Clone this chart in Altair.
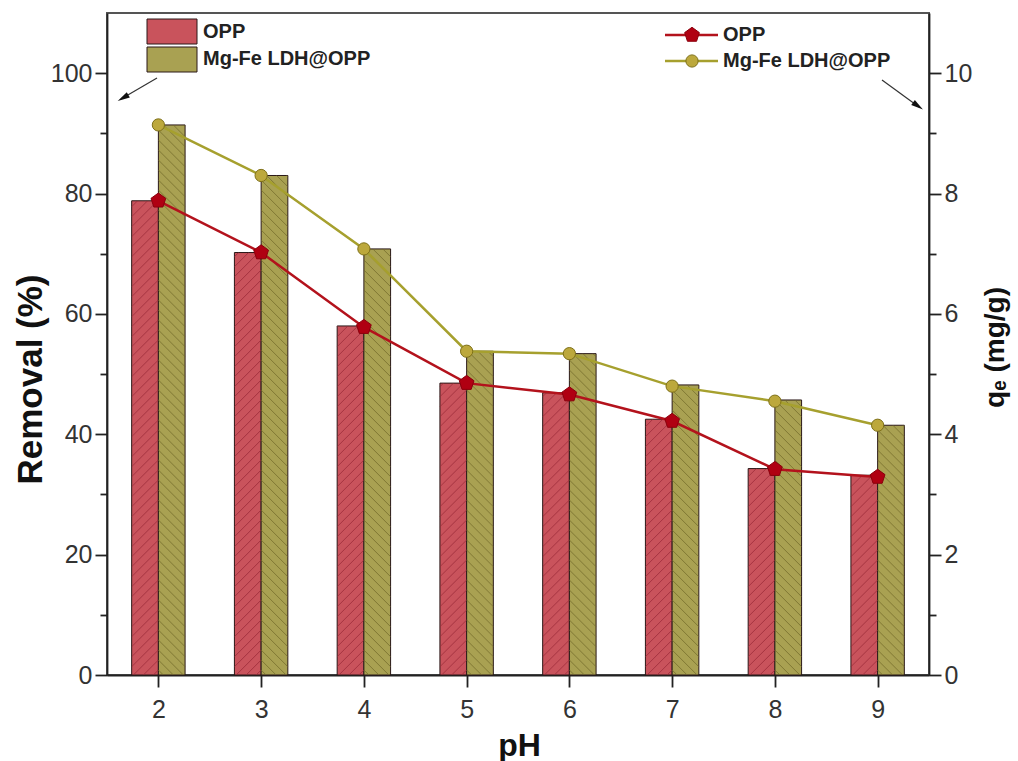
import altair as alt
import pandas as pd

# ---------------- data ----------------
ph = [2, 3, 4, 5, 6, 7, 8, 9]
series_names = ["OPP", "Mg-Fe LDH@OPP"]
removal_opp = [78.8, 70.2, 58.0, 48.5, 46.9, 42.5, 34.3, 33.2]
removal_ldh = [91.4, 83.0, 70.8, 53.8, 53.4, 48.2, 45.7, 41.5]
qe_opp = [7.88, 7.02, 5.78, 4.85, 4.66, 4.22, 3.42, 3.29]
qe_ldh = [9.14, 8.30, 7.08, 5.38, 5.34, 4.80, 4.55, 4.15]
left_major = [0, 20, 40, 60, 80, 100]
left_minor = [10, 30, 50, 70, 90]
right_major = [0, 2, 4, 6, 8, 10]
right_minor = [1, 3, 5, 7, 9]

bars_df = pd.DataFrame({
    "pH": ph + ph,
    "series": [series_names[0]] * len(ph) + [series_names[1]] * len(ph),
    "order": [0] * len(ph) + [1] * len(ph),
    "removal": removal_opp + removal_ldh,
})
lines_df = pd.DataFrame({
    "pH": ph + ph,
    "series": [series_names[0]] * len(ph) + [series_names[1]] * len(ph),
    "qe": qe_opp + qe_ldh,
})

# ---------------- styles ----------------
W, H = 822, 662
X_DOMAIN = [1.5, 9.5]
Y_LEFT = [0, 110]
Y_RIGHT = [0, 11]
BAR_W = 0.26
FONT = "Liberation Sans"
AX = "#222222"
BAR_FILL = ["#C9535C", "#A9A152"]
HATCH_COL = ["#9A2A38", "#716A2A"]
LINE_COL = ["#B3121C", "#A6A02E"]
PT_FILL = ["#B00012", "#BCA83C"]
PT_STROKE = ["#8A000C", "#7E7018"]
PENTAGON = "M0,-1L0.951,-0.309L0.588,0.809L-0.588,0.809L-0.951,-0.309Z"
ARROW = "M0,-1L0.5,1L-0.5,1Z"


def hatch_segments(df, step=10.0):
    """Diagonal hatch lines inside each bar (texture), expressed in data units."""
    kx = W / (X_DOMAIN[1] - X_DOMAIN[0])
    ky = H / (Y_LEFT[1] - Y_LEFT[0])
    wpx = BAR_W * kx
    rows = []
    for r in df.itertuples():
        a = r.pH + (r.order - 1) * BAR_W
        hpx = r.removal * ky
        if r.order == 0:  # "/"
            c = -wpx + step / 2
            while c < hpx:
                u0, u1 = max(0.0, -c), min(wpx, hpx - c)
                if u1 > u0:
                    rows.append(dict(series=r.series, hx=a + u0 / kx, hy=(u0 + c) / ky,
                                     hx2=a + u1 / kx, hy2=(u1 + c) / ky))
                c += step
        else:  # "\"
            c = step / 2
            while c < hpx + wpx:
                u0, u1 = max(0.0, c - hpx), min(wpx, c)
                if u1 > u0:
                    rows.append(dict(series=r.series, hx=a + u0 / kx, hy=(c - u0) / ky,
                                     hx2=a + u1 / kx, hy2=(c - u1) / ky))
                c += step
    return pd.DataFrame(rows)


hatch_df = hatch_segments(bars_df)

xscale = alt.Scale(domain=X_DOMAIN, nice=False, zero=False)
xaxis = alt.Axis(values=ph, title="pH", grid=False, tickSize=12, labelPadding=10,
                 titleX=412, titleY=80, titleBaseline="alphabetic",
                 titleAlign="center", titleFontSize=32)

left_scale = alt.Scale(domain=Y_LEFT, nice=False, zero=True)
right_scale = alt.Scale(domain=Y_RIGHT, nice=False, zero=True)

bars = alt.Chart(bars_df).transform_calculate(
    xa=f"datum.pH + (datum.order - 1) * {BAR_W}",
    xb=f"datum.pH + datum.order * {BAR_W}",
    base="0",
).mark_rect(stroke="#2a1818", strokeWidth=1).encode(
    x=alt.X("xa:Q", scale=xscale, axis=xaxis),
    x2="xb:Q",
    y=alt.Y("removal:Q", scale=left_scale,
            axis=alt.Axis(orient="left", values=left_major, title="Removal (%)", grid=False,
                          tickSize=12, labelPadding=3, titleAngle=270, titleX=-77, titleY=366,
                          titleBaseline="middle", titleAlign="center", titleFontSize=35)),
    y2="base:Q",
    fill=alt.Fill("series:N", scale=alt.Scale(domain=series_names, range=BAR_FILL), legend=None),
)

hatch = alt.Chart(hatch_df).mark_rule(strokeWidth=1, opacity=0.75).encode(
    x=alt.X("hx:Q", scale=xscale, axis=xaxis),
    x2="hx2:Q",
    y=alt.Y("hy:Q", scale=left_scale, axis=None),
    y2="hy2:Q",
    stroke=alt.Stroke("series:N", scale=alt.Scale(domain=series_names, range=HATCH_COL), legend=None),
)

left_minor_layer = alt.Chart(pd.DataFrame({"v": left_minor})).mark_point(opacity=0).encode(
    y=alt.Y("v:Q", scale=left_scale,
            axis=alt.Axis(orient="left", values=left_minor, labels=False, tickSize=7,
                          domain=False, grid=False, title=None)),
)

lines = alt.Chart(lines_df).mark_line(strokeWidth=2.5).encode(
    x=alt.X("pH:Q", scale=xscale, axis=xaxis),
    y=alt.Y("qe:Q", scale=right_scale,
            axis=alt.Axis(orient="right", values=right_major, title="qₑ (mg/g)", grid=False,
                          tickSize=12, labelPadding=3, titleAngle=270, titleX=66, titleY=334,
                          titleBaseline="middle", titleAlign="center", titleFontSize=28)),
    color=alt.Color("series:N", scale=alt.Scale(domain=series_names, range=LINE_COL), legend=None),
    detail="series:N",
)

points = alt.Chart(lines_df).mark_point(filled=True, opacity=1, strokeWidth=1).encode(
    x=alt.X("pH:Q", scale=xscale, axis=xaxis),
    y=alt.Y("qe:Q", scale=right_scale, axis=None),
    shape=alt.Shape("series:N", scale=alt.Scale(domain=series_names, range=[PENTAGON, "circle"]), legend=None),
    size=alt.Size("series:N", scale=alt.Scale(domain=series_names, range=[240, 150]), legend=None),
    color=alt.Color("series:N", scale=alt.Scale(domain=series_names, range=PT_FILL), legend=None),
    stroke=alt.Stroke("series:N", scale=alt.Scale(domain=series_names, range=PT_STROKE), legend=None),
)

right_minor_layer = alt.Chart(pd.DataFrame({"v": right_minor})).mark_point(opacity=0).encode(
    y=alt.Y("v:Q", scale=right_scale,
            axis=alt.Axis(orient="right", values=right_minor, labels=False, tickSize=7,
                          domain=False, grid=False, title=None)),
)

# ---------------- legends & arrows ----------------
one = alt.Data(values=[{"a": 1}])
LEG_FONT = dict(font=FONT, fontSize=20, fontWeight="bold", color="#222222", align="left", baseline="middle")

leg = []
leg.append(alt.Chart(one).mark_rect(fill=BAR_FILL[0], stroke="#2a1818", strokeWidth=1).encode(
    x=alt.value(40), x2=alt.value(90), y=alt.value(6), y2=alt.value(31)))
leg.append(alt.Chart(one).mark_rect(fill=BAR_FILL[1], stroke="#2a1818", strokeWidth=1).encode(
    x=alt.value(40), x2=alt.value(90), y=alt.value(34), y2=alt.value(59)))
leg.append(alt.Chart(one).mark_text(**LEG_FONT).encode(x=alt.value(96), y=alt.value(19), text=alt.value(series_names[0])))
leg.append(alt.Chart(one).mark_text(**LEG_FONT).encode(x=alt.value(96), y=alt.value(46), text=alt.value(series_names[1])))

for i, yy in enumerate([22, 48]):
    leg.append(alt.Chart(one).mark_rule(stroke=LINE_COL[i], strokeWidth=2.5).encode(
        x=alt.value(558), x2=alt.value(611), y=alt.value(yy)))
    leg.append(alt.Chart(one).mark_point(shape=[PENTAGON, "circle"][i], size=[240, 150][i], filled=True,
                                         fill=PT_FILL[i], stroke=PT_STROKE[i], strokeWidth=1, opacity=1).encode(
        x=alt.value(585), y=alt.value(yy)))
    leg.append(alt.Chart(one).mark_text(**LEG_FONT).encode(x=alt.value(616), y=alt.value(yy), text=alt.value(series_names[i])))

# arrows
leg.append(alt.Chart(one).mark_rule(stroke="#333333", strokeWidth=1.2).encode(
    x=alt.value(50), y=alt.value(65), x2=alt.value(14), y2=alt.value(86)))
leg.append(alt.Chart(one).mark_point(shape=ARROW, size=150, filled=True, fill="#111111", opacity=1, angle=240).encode(
    x=alt.value(16), y=alt.value(85)))
leg.append(alt.Chart(one).mark_rule(stroke="#333333", strokeWidth=1.2).encode(
    x=alt.value(775), y=alt.value(67), x2=alt.value(812), y2=alt.value(94)))
leg.append(alt.Chart(one).mark_point(shape=ARROW, size=150, filled=True, fill="#111111", opacity=1, angle=126).encode(
    x=alt.value(811), y=alt.value(93)))

chart = alt.layer(bars, hatch, left_minor_layer, lines, points, right_minor_layer, *leg).resolve_scale(
    y="independent", color="independent", fill="independent", shape="independent",
    size="independent", stroke="independent",
).properties(
    width=W, height=H,
    padding={"left": 107, "top": 13, "right": 89, "bottom": 86},
    autosize=alt.AutoSizeParams(type="none"),
    background="white",
).configure_view(
    stroke="#555555", strokeWidth=2,
).configure_axis(
    labelFont=FONT, labelFontSize=25, labelColor="#333333",
    titleFont=FONT, titleFontWeight="bold", titleColor="#111111",
    domainColor=AX, domainWidth=1.8, tickColor=AX, tickWidth=1.8,
)

chart.save("out.html", embed_options={"renderer": "svg", "actions": False})
